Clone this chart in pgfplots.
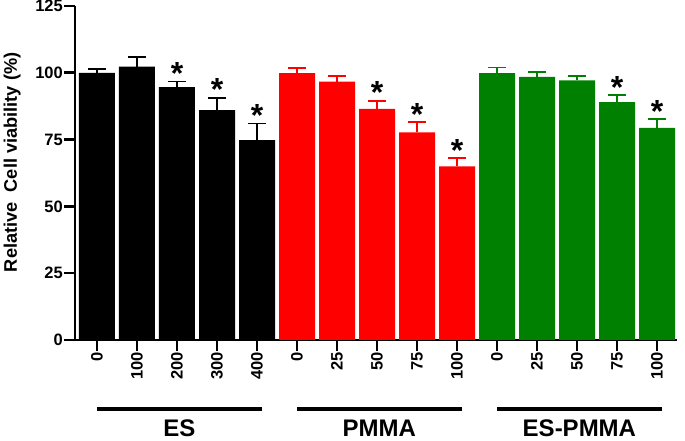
\documentclass[border=0pt]{standalone}
\usepackage{fontspec}
\setmainfont{Liberation Sans}
\usepackage{pgfplots}
\pgfplotsset{compat=1.18}
\definecolor{gpred}{RGB}{255,0,0}
\definecolor{gpgreen}{RGB}{0,128,0}
\begin{document}
\begin{tikzpicture}
\begin{axis}[
  scale only axis,
  width=602pt, height=334pt,
  xmin=-0.55, xmax=14.5,
  ymin=0, ymax=125,
  axis x line*=bottom, axis y line*=left,
  axis line style={line width=2.6pt},
  every tick/.style={black, line width=2.6pt},
  major tick length=11pt,
  tick align=outside,
  ytick={0,25,50,75,100,125},
  xtick={0,...,14},
  xticklabels={0,100,200,300,400,0,25,50,75,100,0,25,50,75,100},
  xticklabel style={rotate=90, anchor=east, font=\fontsize{16.5}{18}\selectfont\bfseries, inner sep=1pt},
  yticklabel style={font=\fontsize{16.5}{18}\selectfont\bfseries, inner sep=1pt},
  /pgf/number format/assume math mode=true,
  ylabel={Relative\ \ Cell viability (\%)},
  every axis y label/.style={at={(axis description cs:-0.1045,0.532)}, rotate=90, anchor=center,
    font=\fontsize{18.2}{20}\selectfont\bfseries},
  clip=false,
]
\addplot[ybar, bar width=0.9, bar shift=0pt, fill=black, draw=none,
  error bars/.cd, y dir=plus, y explicit, error bar style={black, line width=1.6pt},
  error mark options={rotate=90, mark size=9pt, line width=1.6pt, black}]
  coordinates {(0,100) +- (0,1.5) (1,102.3) +- (0,3.5) (2,94.6) +- (0,2.2) (3,86.0) +- (0,4.6) (4,74.8) +- (0,6.2)};
\addplot[ybar, bar width=0.9, bar shift=0pt, fill=gpred, draw=none,
  error bars/.cd, y dir=plus, y explicit, error bar style={gpred, line width=1.6pt},
  error mark options={rotate=90, mark size=9pt, line width=1.6pt, gpred}]
  coordinates {(5,99.9) +- (0,1.8) (6,96.7) +- (0,2.0) (7,86.5) +- (0,3.0) (8,77.7) +- (0,3.8) (9,65.0) +- (0,3.1)};
\addplot[ybar, bar width=0.9, bar shift=0pt, fill=gpgreen, draw=none,
  error bars/.cd, y dir=plus, y explicit, error bar style={gpgreen, line width=1.6pt},
  error mark options={rotate=90, mark size=9pt, line width=1.6pt, gpgreen}]
  coordinates {(10,99.9) +- (0,2.1) (11,98.5) +- (0,1.7) (12,97.2) +- (0,1.7) (13,89.0) +- (0,2.7) (14,79.4) +- (0,3.2)};
% asterisks: glyph centre about 15px above the error cap
\addplot[only marks, mark=none,
  nodes near coords={\fontsize{32}{32}\selectfont\bfseries *},
  every node near coord/.style={anchor=base, yshift=-18pt, text=black}]
  coordinates {(2,102.4) (3,96.2) (4,86.6) (7,95.1) (8,87.1) (9,73.7) (13,97.3) (14,88.2)};
% group bars and labels
\draw[line width=4pt] (axis cs:0,-25.9) -- (axis cs:4.12,-25.9);
\draw[line width=4pt] (axis cs:5,-25.9) -- (axis cs:9.12,-25.9);
\draw[line width=4pt] (axis cs:10,-25.9) -- (axis cs:14.12,-25.9);
\node[font=\fontsize{24}{26}\selectfont\bfseries, anchor=base, inner sep=0pt] at (axis cs:2.06,-36.3) {ES};
\node[font=\fontsize{24}{26}\selectfont\bfseries, anchor=base, inner sep=0pt] at (axis cs:7.06,-36.3) {PMMA};
\node[font=\fontsize{24}{26}\selectfont\bfseries, anchor=base, inner sep=0pt] at (axis cs:12.06,-36.3) {ES-PMMA};
\end{axis}
\pgfresetboundingbox
\path (-75pt,-101pt) rectangle (610pt,340pt);
\end{tikzpicture}
\end{document}
